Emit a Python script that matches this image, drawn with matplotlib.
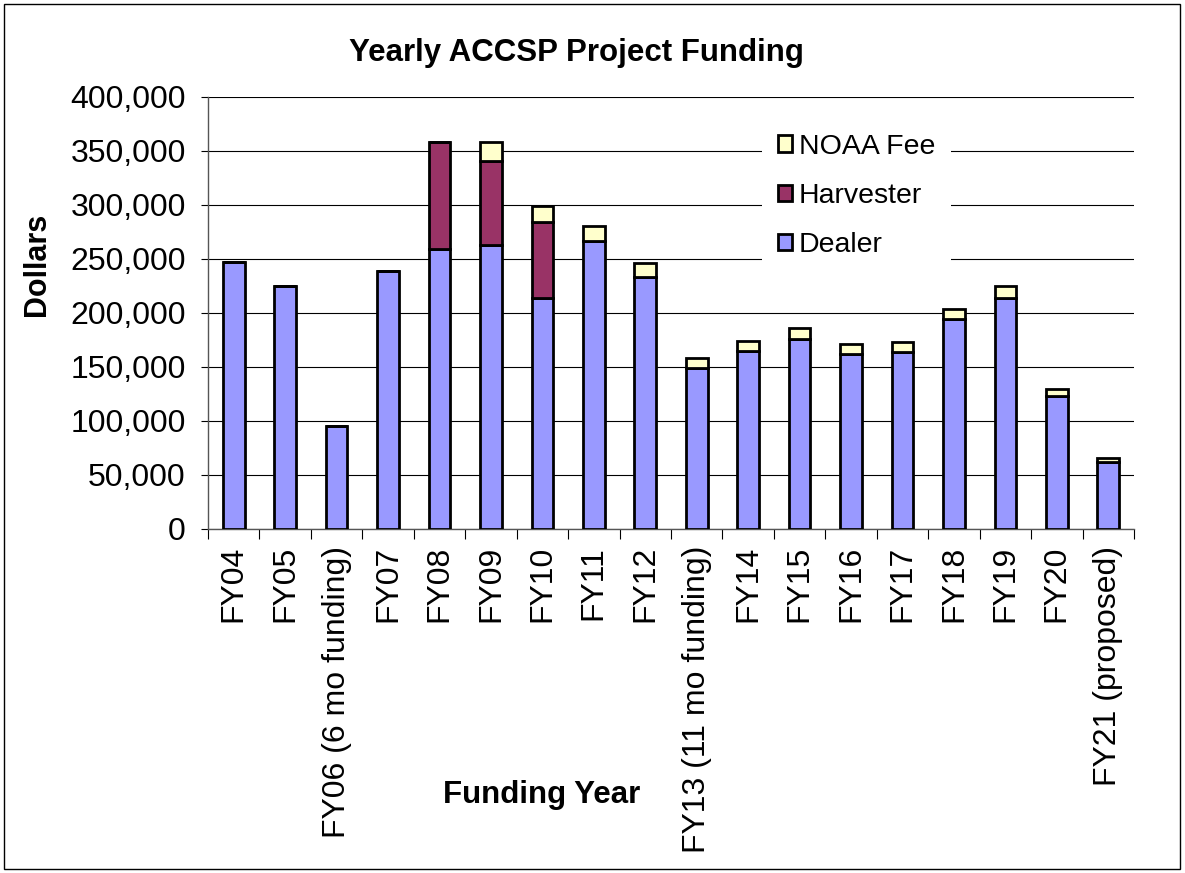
import matplotlib
matplotlib.use("Agg")
import matplotlib.pyplot as plt
import numpy as np
from matplotlib.patches import Patch, Rectangle

plt.rcParams['font.family'] = ['Liberation Sans', 'DejaVu Sans']

categories = ["FY04", "FY05", "FY06 (6 mo funding)", "FY07", "FY08", "FY09", "FY10",
              "FY11", "FY12", "FY13 (11 mo funding)", "FY14", "FY15", "FY16", "FY17",
              "FY18", "FY19", "FY20", "FY21 (proposed)"]
dealer = [247000, 225000, 95000, 239000, 259000, 263000, 214000, 267000, 233000,
          149000, 165000, 176000, 162000, 164000, 194000, 214000, 123000, 62000]
harvester = [0, 0, 0, 0, 99000, 78000, 70000, 0, 0, 0, 0, 0, 0, 0, 0, 0, 0, 0]
noaa_fee = [0, 0, 0, 0, 0, 17000, 15000, 14000, 13000, 9000, 9000, 10000, 9000, 9000,
            10000, 11000, 7000, 3500]
yticks = [0, 50000, 100000, 150000, 200000, 250000, 300000, 350000, 400000]

c_dealer = "#9999FF"
c_harv = "#993366"
c_noaa = "#FFFFCC"

fig = plt.figure(figsize=(11.85, 8.73), dpi=100)
ax = fig.add_axes([208/1185, 1-529/873, (1134-208)/1185, (529-97)/873])

x = np.arange(len(categories))
w = 0.42
d = np.array(dealer)
h = np.array(harvester)
n = np.array(noaa_fee)
lw = 2.0
ax.bar(x, d, w, color=c_dealer, edgecolor="black", linewidth=lw, zorder=3)
ax.bar(x, h, w, bottom=d, color=c_harv, edgecolor="black", linewidth=lw, zorder=3)
ax.bar(x, n, w, bottom=d + h, color=c_noaa, edgecolor="black", linewidth=lw, zorder=3)

ax.set_xlim(-0.5, len(categories) - 0.5)
ax.set_ylim(0, 400000)
ax.set_yticks(yticks)
ax.set_yticklabels([f"{v:,}" for v in yticks], fontsize=23)
ax.yaxis.grid(True, color="black", linewidth=0.8, zorder=0)
ax.set_axisbelow(True)

ax.set_xticks(x)
ax.set_xticklabels(categories, rotation=90, fontsize=23, va="top", ha="center")
ax.set_xticks(np.arange(len(categories) + 1) - 0.5, minor=True)
ax.tick_params(axis="x", which="major", length=0, pad=12)
ax.tick_params(axis="x", which="minor", length=7, width=0.8, direction="out")
ax.tick_params(axis="y", length=5, width=0.8, pad=11, direction="out")

for s in ["top", "right"]:
    ax.spines[s].set_visible(False)
ax.spines["left"].set_color("#555555")
ax.spines["bottom"].set_color("#555555")
ax.spines["left"].set_linewidth(1)
ax.spines["bottom"].set_linewidth(1)

handles = [Patch(facecolor=c_noaa, edgecolor="black", linewidth=lw, label="NOAA Fee"),
           Patch(facecolor=c_harv, edgecolor="black", linewidth=lw, label="Harvester"),
           Patch(facecolor=c_dealer, edgecolor="black", linewidth=lw, label="Dealer")]
leg = fig.legend(handles=handles, loc="upper left",
                 bbox_to_anchor=(762/1185, 1-118/873), fontsize=20.5,
                 frameon=True, facecolor="white", edgecolor="none", framealpha=1,
                 handlelength=0.5, handleheight=0.5, handletextpad=0.25,
                 labelspacing=0.82, borderpad=0.55, borderaxespad=0, fancybox=False)
leg.set_zorder(5)

fig.text(576/1185, 1-53/873, "Yearly ACCSP Project Funding", fontsize=22.5,
         fontweight="bold", ha="center", va="center")
fig.text(37/1185, 1-264/873, "Dollars", fontsize=22, fontweight="bold",
         ha="center", va="center", rotation=90)
fig.text(542/1185, 1-795/873, "Funding Year", fontsize=22.5, fontweight="bold",
         ha="center", va="center")

fig.patches.append(Rectangle((4/1185, 4/873), 1176/1185, 865/873, transform=fig.transFigure,
                             facecolor="none", edgecolor="black", linewidth=1))

fig.savefig("out.png", dpi=100)
